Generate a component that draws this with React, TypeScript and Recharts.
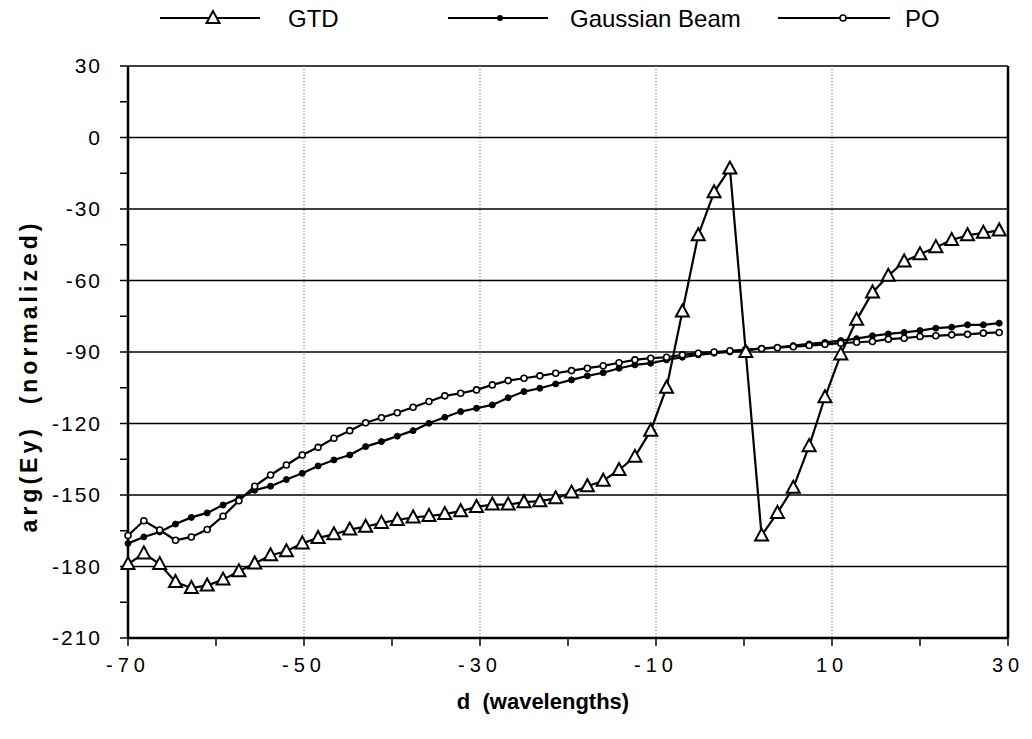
import {
  LineChart,
  Line,
  XAxis,
  YAxis,
  CartesianGrid,
  ReferenceLine,
} from "recharts";

// sample positions (wavelengths)
const dVals = [
  -70, -68.2, -66.4, -64.6, -62.8, -61, -59.2, -57.4, -55.6, -53.8, -52, -50.2, -48.4, -46.6,
  -44.8, -43, -41.2, -39.4, -37.6, -35.8, -34, -32.2, -30.4, -28.6, -26.8, -25, -23.2, -21.4,
  -19.6, -17.8, -16, -14.2, -12.4, -10.6, -8.8, -7, -5.2, -3.4, -1.6, 0.2, 2, 3.8, 5.6, 7.4,
  9.2, 11, 12.8, 14.6, 16.4, 18.2, 20, 21.8, 23.6, 25.4, 27.2, 29,
];

const gtd = [
  -179, -174.5, -179, -186.5, -189, -188, -185.5, -182, -178.7, -175.3, -173.6, -170.3, -168,
  -166.5, -164.5, -163.3, -161.7, -160.5, -159.4, -158.8, -158, -156.8, -155, -154, -154, -153,
  -152.6, -151.4, -149, -146.3, -144, -139.5, -134, -123, -105, -73, -41, -23, -13, -90, -167,
  -157.5, -147, -129.5, -109, -91, -76.5, -65, -58, -52, -49, -46, -43, -41, -40, -39,
];

const gaussianBeam = [
  -170.3, -167.6, -165.5, -162.2, -159.4, -157.5, -154.2, -151.4, -148, -146.3, -143.5, -140.9,
  -137.8, -135.3, -133.2, -129.7, -127.6, -125.3, -123, -119.9, -117.4, -115, -113.6, -112.2,
  -109.2, -106.6, -105.2, -103.4, -101.7, -100, -98.7, -96.8, -95.4, -94.7, -93.3, -92.2, -91.2,
  -90.5, -90, -89.3, -88.5, -88, -87.3, -86.6, -86, -85.2, -84.4, -83.2, -82.4, -81.8, -81, -80,
  -79.6, -78.6, -78.6, -77.9,
];

const po = [
  -167, -160.8, -164.7, -169, -167.6, -164.5, -158.9, -152.4, -146.3, -141.6, -137.4, -133.2,
  -130, -126.2, -123, -119.7, -117.6, -115.5, -113.2, -110.8, -108.4, -107.3, -105.9, -103.8,
  -102, -101, -100, -98.9, -97.8, -96.8, -95.8, -94.5, -93.3, -92.6, -92.2, -91.2, -90.5, -90,
  -89.5, -89, -88.6, -88.2, -87.8, -87.3, -86.8, -86.3, -85.9, -85.6, -84.6, -84.2, -83.5, -83.2,
  -82.8, -82.6, -82.1, -81.8,
];

const xTicks = [-70, -60, -50, -40, -30, -20, -10, 0, 10, 20, 30];
const xLabelled = [-70, -50, -30, -10, 10, 30];
const xGrid = [-50, -30, -10, 10];
const yTicks = [-210, -195, -180, -165, -150, -135, -120, -105, -90, -75, -60, -45, -30, -15, 0, 15, 30];
const yGrid = [-180, -150, -120, -90, -60, -30, 0, 30];

const data = dVals.map((d, i) => ({ d, gtd: gtd[i], gb: gaussianBeam[i], po: po[i] }));

const FONT = "'Liberation Sans', Arial, Helvetica, sans-serif";

const TriDot = (p: any) => {
  const { cx, cy, index } = p;
  if (cx == null || cy == null) return <g key={`t-${index}`} />;
  return (
    <polygon
      key={`t-${index}`}
      points={`${cx},${cy - 7} ${cx - 6.5},${cy + 5} ${cx + 6.5},${cy + 5}`}
      fill="#fff"
      stroke="#000"
      strokeWidth={2}
    />
  );
};

const FilledDot = (p: any) => (
  <circle key={`g-${p.index}`} cx={p.cx} cy={p.cy} r={3} fill="#000" stroke="#000" strokeWidth={1} />
);

const OpenDot = (p: any) => (
  <circle key={`p-${p.index}`} cx={p.cx} cy={p.cy} r={3} fill="#fff" stroke="#000" strokeWidth={1.6} />
);

const YTitle = (props: any) => {
  const vb = props.viewBox || { x: 0, y: 66, width: 128, height: 572 };
  const cx = vb.x + 29;
  const cy = vb.y + vb.height / 2 + 24;
  return (
    <text
      transform={`translate(${cx},${cy}) rotate(-90)`}
      textAnchor="middle"
      dominantBaseline="central"
      style={{ fontFamily: FONT, fontSize: 23, fontWeight: "bold", fill: "#000", letterSpacing: 4 }}
    >
      {"arg(Ey)\u00A0 (normalized)"}
    </text>
  );
};

function LegendBar() {
  const y = 18;
  const txt = { fontFamily: FONT, fontSize: 24, fill: "#000" };
  return (
    <svg width={1032} height={40} style={{ position: "absolute", left: 0, top: 0 }}>
      <line x1={160} x2={260} y1={y} y2={y} stroke="#000" strokeWidth={2.2} />
      <polygon points={`213,${y - 7} 206.5,${y + 5} 219.5,${y + 5}`} fill="#fff" stroke="#000" strokeWidth={2} />
      <text x={288} y={y + 9} {...txt}>GTD</text>
      <line x1={448} x2={548} y1={y} y2={y} stroke="#000" strokeWidth={2.2} />
      <circle cx={500} cy={y} r={3} fill="#000" />
      <text x={570} y={y + 9} {...txt}>Gaussian Beam</text>
      <line x1={778} x2={890} y1={y} y2={y} stroke="#000" strokeWidth={2.2} />
      <circle cx={843} cy={y} r={3} fill="#fff" stroke="#000" strokeWidth={1.6} />
      <text x={905} y={y + 9} {...txt}>PO</text>
    </svg>
  );
}

export default function App() {
  return (
    <div style={{ position: "absolute", left: 0, top: 0, width: 1032, height: 739, background: "#fff" }}>
      <LineChart width={1032} height={739} data={data} margin={{ top: 66, right: 24, bottom: 0, left: 0 }}>
        <CartesianGrid horizontal vertical={false} horizontalValues={yGrid} stroke="#000" strokeWidth={1.6} />
        <CartesianGrid horizontal={false} vertical verticalValues={xGrid} stroke="#666" strokeWidth={1} strokeDasharray="1 2" />
        <XAxis
          type="number"
          dataKey="d"
          domain={[-70, 30]}
          ticks={xTicks}
          interval={0}
          tickFormatter={(v: number) => (xLabelled.includes(v) ? String(v) : "")}
          tick={{ fontSize: 20, fill: "#000", fontFamily: FONT, letterSpacing: 5 }}
          tickSize={8}
          tickMargin={12}
          height={101}
          axisLine={{ stroke: "#000", strokeWidth: 2.5 }}
          tickLine={{ stroke: "#000", strokeWidth: 1.5 }}
          label={{
            value: "d\u00A0 (wavelengths)",
            position: "insideBottom",
            offset: 30,
            dx: -25,
            style: { fontFamily: FONT, fontSize: 22, fontWeight: "bold", fill: "#000" },
          }}
        />
        <YAxis
          type="number"
          domain={[-210, 30]}
          ticks={yTicks}
          interval={0}
          tickFormatter={(v: number) => (v % 30 === 0 ? String(v) : "")}
          tick={{ fontSize: 21, fill: "#000", fontFamily: FONT, letterSpacing: 2 }}
          tickSize={8}
          tickMargin={18}
          width={128}
          axisLine={{ stroke: "#000", strokeWidth: 2.5 }}
          tickLine={{ stroke: "#000", strokeWidth: 1.5 }}
          label={YTitle}
        />
        <ReferenceLine x={30} stroke="#000" strokeWidth={2.5} />
        <Line
          type="linear"
          dataKey="gb"
          stroke="#000"
          strokeWidth={2.2}
          dot={FilledDot}
          isAnimationActive={false}
        />
        <Line
          type="linear"
          dataKey="po"
          stroke="#000"
          strokeWidth={2.2}
          dot={OpenDot}
          isAnimationActive={false}
        />
        <Line
          type="linear"
          dataKey="gtd"
          stroke="#000"
          strokeWidth={2.2}
          dot={TriDot}
          isAnimationActive={false}
        />
      </LineChart>
      <LegendBar />
    </div>
  );
}
